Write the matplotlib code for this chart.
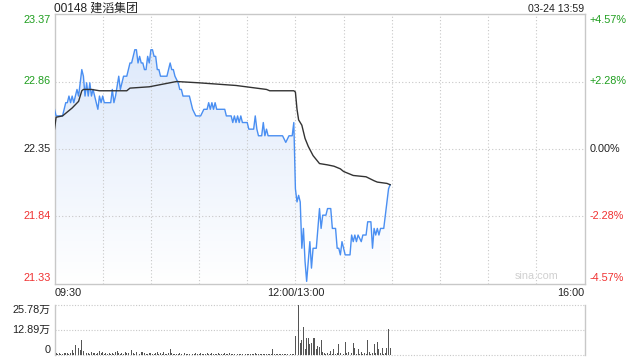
import numpy as np
import matplotlib
matplotlib.use("Agg")
import matplotlib.pyplot as plt
import matplotlib.transforms as mtransforms
from matplotlib.colors import LinearSegmentedColormap
from matplotlib.patches import Polygon

plt.rcParams["font.family"] = ["Liberation Sans", "Noto Sans CJK SC", "DejaVu Sans"]

title = "00148 建滔集团"
stamp = "03-24 13:59"
prev_close = 22.35
price_ticks = [21.33, 21.84, 22.35, 22.86, 23.37]
pct_labels = ["-4.57%", "-2.28%", "0.00%", "+2.28%", "+4.57%"]
time_labels = ["09:30", "12:00/13:00", "16:00"]
time_label_pos = [0, 150, 330]
vol_ticks = [0, 12.89, 25.78]
vol_labels = ["0", "12.89万", "25.78万"]

# minutes since 09:30 (lunch break removed), price in HKD
px_min = [0, 1, 5, 6, 7, 8, 9, 10, 11, 12, 14, 15, 16, 17, 18, 19, 20, 21, 22, 23,
          24, 25, 26, 27, 28, 29, 30, 31, 35, 36, 37, 38, 40, 41, 42, 43, 45, 46, 47, 48,
          49, 50, 51, 52, 53, 54, 55, 56, 57, 58, 59, 60, 61, 62, 63, 64, 65, 66, 70, 71,
          72, 73, 74, 75, 77, 78, 79, 80, 84, 85, 86, 88, 91, 93, 95, 96, 97, 98, 99, 100,
          101, 106, 107, 110, 111, 112, 113, 114, 115, 116, 117, 120, 121, 124, 125, 126, 127, 129, 130, 131,
          132, 133, 142, 144, 146, 148, 149, 150, 151, 152, 153, 154, 155, 156, 157, 158, 159, 160, 161, 163,
          164, 165, 166, 167, 169, 170, 172, 173, 175, 176, 177, 178, 179, 181, 184, 185, 186, 187, 188, 189,
          191, 192, 194, 195, 197, 198, 199, 200, 201, 202, 203, 205, 206, 207, 208, 209]
px_val = [22.65, 22.60, 22.60, 22.65, 22.70, 22.70, 22.75, 22.70, 22.75, 22.70, 22.80, 22.75, 22.85, 22.95, 22.90, 22.75, 22.85, 22.75, 22.85, 22.75,
          22.80, 22.75, 22.70, 22.65, 22.75, 22.70, 22.75, 22.70, 22.70, 22.80, 22.70, 22.75, 22.90, 22.80, 22.85, 22.90, 22.90, 22.95, 23.00, 23.00,
          23.05, 23.10, 23.10, 23.00, 23.05, 23.00, 23.00, 22.95, 22.95, 23.05, 23.00, 23.10, 23.10, 23.05, 23.05, 22.95, 22.95, 22.90, 22.90, 22.95,
          23.00, 22.95, 22.95, 22.90, 22.85, 22.80, 22.80, 22.75, 22.75, 22.70, 22.65, 22.60, 22.60, 22.65, 22.65, 22.70, 22.65, 22.70, 22.65, 22.70,
          22.65, 22.65, 22.60, 22.60, 22.55, 22.60, 22.55, 22.60, 22.55, 22.60, 22.55, 22.55, 22.50, 22.50, 22.60, 22.50, 22.45, 22.45, 22.55, 22.45,
          22.50, 22.45, 22.45, 22.40, 22.45, 22.45, 22.55, 22.05, 21.95, 22.00, 21.95, 21.60, 21.75, 21.50, 21.35, 21.50, 21.65, 21.45, 21.60, 21.60,
          21.75, 21.90, 21.75, 21.85, 21.85, 21.90, 21.90, 21.75, 21.75, 21.60, 21.60, 21.55, 21.65, 21.55, 21.55, 21.70, 21.65, 21.70, 21.65, 21.70,
          21.65, 21.70, 21.70, 21.80, 21.80, 21.60, 21.75, 21.70, 21.75, 21.70, 21.75, 21.75, 21.85, 21.95, 22.05, 22.08]

avg_min = [0, 1, 5, 7, 11, 15, 17, 18, 23, 28, 45, 47, 59, 76, 90, 113, 132, 134, 149, 150,
           151, 152, 154, 156, 158, 161, 165, 170, 174, 178, 180, 184, 186, 194, 199, 201, 207, 209]
avg_val = [22.50, 22.59, 22.60, 22.62, 22.66, 22.71, 22.79, 22.80, 22.80, 22.79, 22.79, 22.81, 22.82, 22.86, 22.85, 22.83, 22.80, 22.79, 22.79, 22.78,
           22.65, 22.57, 22.53, 22.43, 22.37, 22.30, 22.24, 22.23, 22.22, 22.20, 22.18, 22.16, 22.15, 22.14, 22.11, 22.10, 22.09, 22.08]

# volume per minute, in 万 shares
vol_am = [0.6, 0.8, 0.5, 0.9, 0.7, 0.6, 1.0, 0.8, 1.2, 0.6, 0.9, 2.6, 1.0, 5.1, 1.4, 3.4, 2.6, 7.7, 1.8, 1.3,
          0.9, 1.1, 0.7, 1.4, 0.8, 1.2, 0.6, 1.0, 2.0, 0.9, 1.4, 0.7, 1.1, 0.6, 0.8, 0.5, 0.9, 0.6, 1.5, 2.2,
          1.2, 0.7, 1.0, 0.5, 1.6, 0.8, 1.2, 3.7, 2.6, 0.9, 0.7, 1.5, 1.3, 0.6, 1.4, 1.6, 0.8, 0.7, 0.5, 0.9,
          1.2, 0.6, 0.4, 0.8, 1.7, 0.6, 0.9, 0.5, 1.3, 0.7, 0.5, 0.9, 3.1, 0.8, 0.6, 0.4, 0.7, 0.5, 0.9, 0.4,
          0.6, 0.8, 0.5, 0.7, 0.4, 0.9, 0.6, 0.5, 0.8, 0.4, 0.6, 1.1, 0.5, 0.7, 0.4, 0.9, 0.6, 0.5, 0.8, 0.4,
          0.7, 0.5, 0.9, 0.4, 0.6, 0.5, 0.8, 0.4, 0.7, 1.0, 0.5, 0.6, 0.4, 0.9, 0.5, 0.7, 0.4, 0.6, 0.8, 0.5,
          0.4, 0.7, 0.5, 0.6, 0.4, 0.9, 0.5, 0.6, 0.4, 0.7, 0.5, 0.4, 0.6, 0.5, 0.4, 0.7, 2.9, 0.4, 0.5, 0.5,
          0.6, 0.4, 0.5, 0.4, 0.6, 0.4, 0.5, 0.4, 0.6, 0.5]
vol_pm = [9.85, 13.8, 25.78, 6.0, 7.7, 14.5, 3.0, 8.8, 8.5, 5.5, 6.0, 8.5, 8.8, 3.0, 4.8, 4.3, 7.9, 1.7, 0.8, 0.6,
          1.0, 0.5, 2.2, 0.7, 2.9, 0.6, 0.9, 5.4, 0.8, 2.9, 0.7, 6.5, 0.9, 1.4, 0.6, 0.8, 6.1, 3.4, 0.7, 2.9,
          0.6, 1.4, 0.5, 0.8, 0.6, 7.7, 1.4, 0.6, 0.9, 5.8, 1.0, 6.5, 3.1, 0.8, 3.4, 0.7, 1.0, 3.4, 13.3, 3.7]

GREEN = "#1f9e1f"
RED = "#f03030"
DARK = "#222222"
GRID = "#c8c8c8"
BLUE = "#4a8ff2"
FS = 7.8

fig = plt.figure(figsize=(6.4, 3.6), dpi=100)
ax = fig.add_axes([54.5 / 640, 1 - 284 / 360, 530 / 640, 270 / 360])
axv = fig.add_axes([54.5 / 640, 1 - 355 / 360, 530 / 640, 50.5 / 360])

ymin, ymax = price_ticks[0], price_ticks[-1]
ax.set_xlim(0, 330)
ax.set_ylim(ymin, ymax)

# gradient fill under the price line
grad = LinearSegmentedColormap.from_list("g", ["#ffffff", "#d9e6fa"])
img = ax.imshow(np.linspace(0, 1, 256).reshape(-1, 1), cmap=grad, aspect="auto",
                extent=[0, 330, ymin, ymax], origin="lower", zorder=1)
poly = Polygon(list(zip(px_min, px_val)) + [(px_min[-1], ymin), (px_min[0], ymin)],
               closed=True, facecolor="none", edgecolor="none")
ax.add_patch(poly)
img.set_clip_path(poly)

ax.plot(px_min, px_val, color=BLUE, lw=1.0, zorder=3)
ax.plot(avg_min, avg_val, color="#333333", lw=1.0, zorder=3)

ax.set_xticks(np.arange(30, 330, 30))
ax.set_yticks(price_ticks[1:-1])
ax.grid(True, color=GRID, ls=(0, (1, 2)), lw=0.8)
ax.tick_params(length=0, labelleft=False, labelbottom=False)
for s in ax.spines.values():
    s.set_color(GRID)
    s.set_linewidth(1.0)

ytr = mtransforms.blended_transform_factory(ax.transAxes, ax.transData)
for i, (p, lab) in enumerate(zip(price_ticks, pct_labels)):
    c = GREEN if p > prev_close else (RED if p < prev_close else DARK)
    va = "bottom" if i == 0 else ("top" if i == len(price_ticks) - 1 else "center")
    off = 0.004 if i == 0 else (-0.004 if i == len(price_ticks) - 1 else 0)
    ax.text(-0.007, p + off, f"{p:.2f}", transform=ytr, ha="right", va=va, color=c, fontsize=FS)
    ax.text(1.01, p + off, lab, transform=ytr, ha="left", va=va, color=c, fontsize=FS)

xtr = mtransforms.blended_transform_factory(ax.transData, ax.transAxes)
for pos, lab in zip(time_label_pos, time_labels):
    ha = "left" if pos == 0 else ("right" if pos == 330 else "center")
    ax.text(pos, -0.034, lab, transform=xtr, ha=ha, va="center", color=DARK, fontsize=FS)

ax.text(0.0, 1.009, title, transform=ax.transAxes, ha="left", va="baseline", color=DARK, fontsize=8.6)
ax.text(1.0, 1.009, stamp, transform=ax.transAxes, ha="right", va="baseline", color=DARK, fontsize=7.6)
ax.text(0.95, 0.012, "sina.com", transform=ax.transAxes, ha="right", va="bottom",
        color="#d0d0d0", fontsize=FS, zorder=2)

# volume panel
vols = vol_am + vol_pm
axv.bar(np.arange(len(vols)), vols, width=0.6, color="#555555", zorder=3)
axv.set_xlim(0, 330)
axv.set_ylim(0, vol_ticks[-1])
for v in vol_ticks:
    axv.axhline(v, color=GRID, ls=(0, (1, 1.5)), lw=0.8, zorder=1, clip_on=False)
axv.set_xticks([])
axv.set_yticks([])
for side in ("top", "bottom"):
    axv.spines[side].set_visible(False)
for side in ("left", "right"):
    axv.spines[side].set_color(GRID)
    axv.spines[side].set_linewidth(1.0)
for v, lab in zip(vol_ticks, vol_labels):
    va = "bottom" if v == 0 else ("top" if v == vol_ticks[-1] else "center")
    axv.text(-0.008, v, lab, transform=mtransforms.blended_transform_factory(axv.transAxes, axv.transData),
             ha="right", va=va, color=DARK, fontsize=FS)

fig.savefig("out.png", dpi=100)
